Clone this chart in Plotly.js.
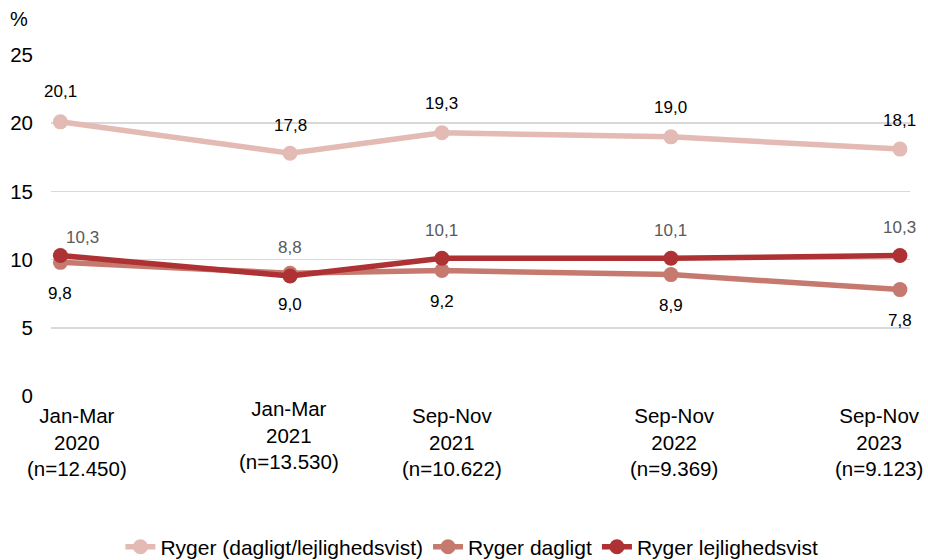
<!DOCTYPE html>
<html>
<head>
<meta charset="utf-8">
<script src="https://cdn.plot.ly/plotly-3.0.1.min.js"></script>
<style>html,body{margin:0;padding:0;background:#fff;}#chart{width:928px;height:560px;}</style>
</head>
<body>
<div id="chart"></div>
<script>
const xDates = ["2020-02-15", "2021-02-15", "2021-10-15", "2022-10-15", "2023-10-15"];
const tickLabels = ["Jan-Mar<br>2020<br>(n=12.450)", "Jan-Mar<br>2021<br>(n=13.530)", "Sep-Nov<br>2021<br>(n=10.622)", "Sep-Nov<br>2022<br>(n=9.369)", "Sep-Nov<br>2023<br>(n=9.123)"];
const seriesNames = ["Ryger (dagligt/lejlighedsvist)", "Ryger dagligt", "Ryger lejlighedsvist"];
const rygerTotal = [20.1, 17.8, 19.3, 19.0, 18.1];
const rygerDagligt = [9.8, 9.0, 9.2, 8.9, 7.8];
const rygerLejlighedsvist = [10.3, 8.8, 10.1, 10.1, 10.3];

const FONT = "Liberation Sans, Arial, sans-serif";
const colors = ["#E3BAB4", "#C67A6F", "#AE3133"];
const seriesData = [rygerTotal, rygerDagligt, rygerLejlighedsvist];
const labelColor = ["#000000", "#000000", "#595959"];
// label offsets (px) for each series' value labels
const labelYShift = [[30, 28, 29, 29, 29], [-31, -31, -31, -31, -31], [18, 28, 28, 28, 28]];
const labelXShift = [[0, 0, 0, 0, 0], [0, 0, 0, 0, 0], [22, 0, 0, 0, 0]];
// category label offsets (px)
const tickXShift = [17, -1, 10, 3, -21];
const tickYShift = [-6, 1, -6, -6, -6];

const fmt = v => v.toFixed(1).replace(".", ",");

const traces = seriesData.map((ys, i) => ({
  type: "scatter",
  mode: "lines+markers",
  x: xDates,
  y: ys,
  name: seriesNames[i],
  line: {color: colors[i], width: 5.5},
  marker: {color: colors[i], size: 15},
  hoverinfo: "skip"
}));

const annotations = [];
seriesData.forEach((ys, i) => {
  ys.forEach((v, j) => {
    annotations.push({
      x: xDates[j], y: v, xref: "x", yref: "y",
      text: fmt(v), showarrow: false,
      xshift: labelXShift[i][j], yshift: labelYShift[i][j],
      font: {family: FONT, size: 17, color: labelColor[i]}
    });
  });
});
tickLabels.forEach((t, j) => {
  annotations.push({
    x: xDates[j], y: 0, xref: "x", yref: "paper",
    yanchor: "top", xanchor: "center", align: "center",
    text: t, showarrow: false,
    xshift: tickXShift[j], yshift: tickYShift[j],
    font: {family: FONT, size: 20.5, color: "#000"}
  });
});
annotations.push({
  xref: "paper", yref: "paper", x: -0.05, y: 1.105, xanchor: "left", yanchor: "middle",
  text: "%", showarrow: false,
  font: {family: FONT, size: 20, color: "#000"}
});

const layout = {
  width: 928, height: 560,
  margin: {l: 51, r: 18, t: 55, b: 164, autoexpand: false},
  paper_bgcolor: "#fff", plot_bgcolor: "#fff",
  font: {family: FONT, size: 20, color: "#000"},
  showlegend: true,
  legend: {
    orientation: "h", x: 0.49, xanchor: "center", y: -0.443, yanchor: "middle",
    font: {family: FONT, size: 21, color: "#000"}, traceorder: "normal"
  },
  xaxis: {
    type: "date",
    range: ["2020-01-31", "2023-10-31"],
    showticklabels: false,
    showgrid: false, zeroline: false, showline: false, ticks: ""
  },
  yaxis: {
    range: [0, 25], tickvals: [0, 5, 10, 15, 20, 25],
    showgrid: true, gridcolor: "#D9D9D9", gridwidth: 1.5,
    zeroline: false, showline: false, ticks: "",
    ticklabelstandoff: 17,
    tickfont: {family: FONT, size: 20.5, color: "#000"}
  },
  annotations: annotations
};

Plotly.newPlot("chart", traces, layout, {displayModeBar: false, staticPlot: true});
</script>
</body>
</html>
